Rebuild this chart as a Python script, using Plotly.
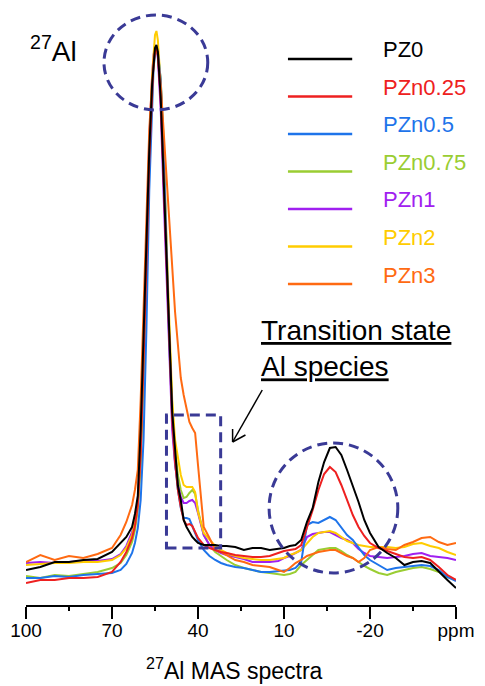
import plotly.graph_objects as go

# Chemical shift grid (ppm), shared by all spectra
ppm = [100, 95, 90, 85, 80, 75, 70,
       67, 65, 63, 62, 61, 60, 59, 58, 57, 56,
       55.5, 55, 54.5, 54,
       53, 52, 51, 50, 49, 48, 47, 46, 45, 44, 43, 42, 41, 40,
       38, 36, 34, 32, 30,
       27, 24, 21, 18, 15, 12,
       10, 8, 6, 4, 2, 0, -2, -4, -6, -8, -10, -12, -14, -16, -18, -20,
       -23, -26, -29, -32, -35, -38, -41, -44, -47, -50]

# 27Al MAS intensities (a.u.)
pz0 = [20, 23, 28, 28, 30, 31, 38,
       47, 53, 63, 76, 94, 160, 253, 350, 440, 506,
       528, 542, 545, 538,
       492, 414, 337, 257, 178, 141, 104, 90, 70, 63, 58, 53, 50, 47,
       45, 45, 45, 44, 44,
       43, 40, 42, 42, 40, 41,
       42, 44, 45, 50, 68, 82, 108, 128, 142, 143, 135, 120, 105, 88, 70, 57,
       43, 37, 32, 25, 28, 29, 27, 18, 10, 2]
pzn025 = [7, 10, 10, 12, 12, 13, 18,
          28, 38, 52, 64, 85, 135, 220, 325, 430, 505,
          528, 540, 543, 535,
          490, 410, 325, 240, 170, 128, 100, 83, 70, 65, 66, 64, 58, 52,
          45, 42, 40, 38, 37,
          35, 34, 33, 33, 34, 37,
          39, 40, 41, 45, 62, 80, 100, 116, 123, 118, 105, 90, 75, 63, 54, 47,
          42, 39, 36, 33, 32, 33, 30, 23, 15, 10]
pzn05 = [12, 12, 14, 13, 15, 16, 17,
         20, 26, 37, 47, 62, 90, 150, 260, 400, 495,
         522, 535, 540, 538,
         510, 440, 340, 245, 175, 128, 100, 82, 72, 72, 71, 63, 57, 50,
         40, 34, 30, 27, 25,
         23, 22, 20, 18, 18, 19,
         20, 20, 22, 28, 65, 68, 67, 70, 73, 70, 63, 55, 50, 42, 35, 30,
         25, 20, 22, 23, 24, 25, 24, 20, 13, 9]
pzn075 = [14, 12, 15, 14, 16, 18, 22,
          27, 35, 48, 60, 80, 125, 210, 325, 430, 505,
          528, 538, 542, 540,
          510, 450, 350, 255, 185, 140, 115, 100, 92, 93, 97, 100, 96, 80,
          55, 45, 38, 34, 30,
          25, 22, 20, 18, 17, 16,
          15, 16, 18, 25, 30, 35, 40, 41, 42, 42, 39, 35, 32, 28, 24, 21,
          17, 15, 18, 20, 22, 23, 21, 18, 13, 10]
pzn1 = [27, 28, 27, 28, 29, 29, 31,
        36, 44, 58, 70, 90, 150, 245, 350, 450, 515,
        535, 543, 543, 532,
        480, 395, 310, 230, 160, 125, 105, 93, 87, 87, 89, 90, 87, 77,
        55, 45, 40, 37, 35,
        33, 31, 28, 28, 28, 29,
        32, 34, 37, 40, 53, 56, 57, 58, 58, 55, 52, 50, 47, 41, 37, 34,
        33, 32, 33, 34, 36, 37, 34, 33, 32, 30]
pzn2 = [25, 26, 27, 27, 28, 28, 30,
        35, 42, 55, 68, 85, 145, 240, 345, 445, 515,
        540, 555, 559, 550,
        505, 425, 345, 260, 190, 150, 130, 115, 105, 103, 103, 103, 98, 78,
        57, 50, 44, 40, 37,
        34, 32, 31, 30, 30, 31,
        32, 35, 37, 40, 47, 53, 57, 58, 59, 57, 53, 49, 47, 45, 44, 43,
        43, 43, 42, 43, 46, 47, 44, 42, 38, 35]
pzn3 = [28, 35, 30, 34, 32, 36, 42,
        55, 68, 85, 100, 120, 190, 280, 375, 460, 510,
        528, 538, 540, 535,
        505, 460, 410, 375, 320, 278, 245, 212, 195, 180, 168, 162, 157, 125,
        63, 52, 40, 38, 35,
        30, 28, 25, 24, 23, 20,
        18, 22, 27, 30, 34, 36, 38, 39, 40, 40, 37, 34, 32, 28, 32, 40,
        43, 41, 40, 45, 48, 52, 53, 48, 45, 47]

names = ["PZ0", "PZn0.25", "PZn0.5", "PZn0.75", "PZn1", "PZn2", "PZn3"]
spectra = [pz0, pzn025, pzn05, pzn075, pzn1, pzn2, pzn3]
colors = ["#000000", "#ee2020", "#1e74ea", "#9acd32", "#a020f0", "#ffcc00", "#ff6a12"]

# x-axis ticks
tick_vals = [100, 70, 40, 10, -20, -50]
tick_text = ["100", "70", "40", "10", "-20", "ppm"]
minor_vals = [85, 55, 25, -5, -35]

FONT = "Arial, Liberation Sans, sans-serif"
W, H = 485, 686
ML, MR, MT, MB = 21, 29, 10, 81
PW, PH = W - ML - MR, H - MT - MB


def px_x(px):
    return (px - ML) / PW


def px_y(py):
    return (H - MB - py) / PH


fig = go.Figure()

draw_order = [3, 4, 5, 2, 6, 1, 0]
for i in draw_order:
    fig.add_trace(go.Scatter(
        x=ppm, y=spectra[i], mode="lines", name=names[i],
        line=dict(color=colors[i], width=2), showlegend=False,
    ))

shapes = []
annotations = []

# hand-drawn style legend
leg_x0, leg_x1, leg_text_x = 286, 351, 380
leg_y0, leg_step = 59, 37.5
for k, (nm, c) in enumerate(zip(names, colors)):
    yy = leg_y0 + k * leg_step
    shapes.append(dict(type="line", xref="paper", yref="paper",
                       x0=px_x(leg_x0), x1=px_x(leg_x1), y0=px_y(yy), y1=px_y(yy),
                       line=dict(color=c, width=2.5)))
    annotations.append(dict(xref="paper", yref="paper", x=px_x(leg_text_x), y=px_y(yy - 9),
                            xanchor="left", yanchor="middle", showarrow=False,
                            text=nm, font=dict(family=FONT, size=22, color=c)))

# dashed highlight regions
dash_col = "#3a3a96"
dash_line = dict(color=dash_col, width=3, dash="10px,6px")
shapes.append(dict(type="circle", xref="x", yref="y", x0=72.8, x1=36.6, y0=480, y1=575,
                   line=dash_line, layer="above"))
shapes.append(dict(type="circle", xref="x", yref="y", x0=15.2, x1=-29.7, y0=17, y1=147,
                   line=dash_line, layer="above"))
shapes.append(dict(type="rect", xref="x", yref="y", x0=51.0, x1=32.1, y0=42, y1=175,
                   line=dash_line, layer="above"))

# arrow towards the transition-state box: shaft plus open head
head = (230, 442)
for tail in [(260, 390), (230, 429), (243, 435)]:
    shapes.append(dict(type="line", xref="paper", yref="paper",
                       x0=px_x(tail[0]), y0=px_y(tail[1]),
                       x1=px_x(head[0]), y1=px_y(head[1]),
                       line=dict(color="black", width=1.5)))

annotations.append(dict(xref="paper", yref="paper", x=px_x(257), y=px_y(348),
                        xanchor="left", yanchor="middle", showarrow=False, align="left",
                        text="<u>Transition state</u><br><u>Al species</u>",
                        font=dict(family=FONT, size=28, color="black")))

annotations.append(dict(xref="paper", yref="paper", x=px_x(23), y=px_y(49),
                        xanchor="left", yanchor="middle", showarrow=False,
                        text="<sup>27</sup>Al",
                        font=dict(family=FONT, size=28, color="black")))

annotations.append(dict(xref="paper", yref="paper", x=px_x(232), y=px_y(669),
                        xanchor="center", yanchor="middle", showarrow=False,
                        text="<sup>27</sup>Al MAS spectra",
                        font=dict(family=FONT, size=23, color="black")))

fig.update_layout(
    width=W, height=H,
    margin=dict(l=ML, r=MR, t=MT, b=MB),
    paper_bgcolor="white", plot_bgcolor="white",
    shapes=shapes, annotations=annotations,
    xaxis=dict(range=[100, -50], tickvals=tick_vals, ticktext=tick_text,
               ticks="outside", ticklen=12, tickwidth=2, tickcolor="black",
               showline=True, linewidth=2, linecolor="black",
               showgrid=False, zeroline=False, ticklabelstandoff=-5,
               tickfont=dict(family=FONT, size=19, color="black"),
               minor=dict(tickvals=minor_vals, ticks="outside", ticklen=4,
                          tickwidth=2, tickcolor="black", showgrid=False)),
    yaxis=dict(range=[-15, 580], visible=False),
    showlegend=False,
)

fig.write_html("out.html")
